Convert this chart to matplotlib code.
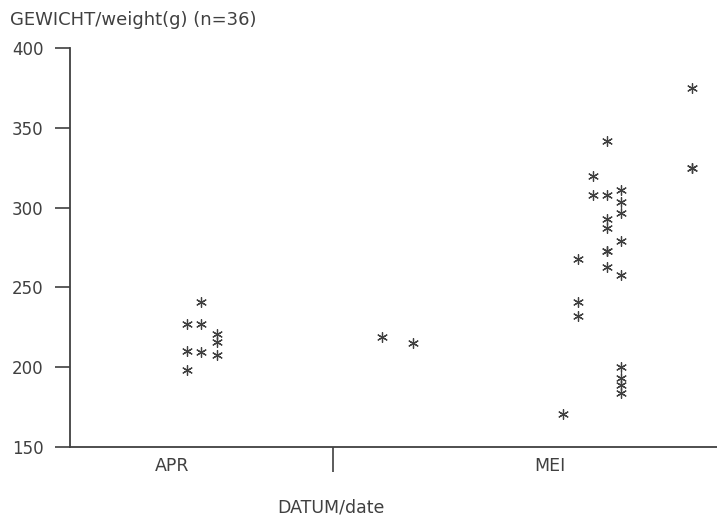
import matplotlib
matplotlib.use("Agg")
import matplotlib.pyplot as plt
import numpy as np

# x = day counted from the start of the axis (month boundary at day 30)
apr_x = [13.3, 15.0, 15.0, 16.8, 16.8, 13.3, 15.0, 16.8, 13.3]
apr_y = [227, 241, 227, 221, 216, 210, 209.5, 207.5, 198]

mid_x = [35.6, 39.1]
mid_y = [219, 215]

mei_x = [56.2, 57.9, 57.9, 57.9, 59.7, 59.7,
         61.2, 61.2, 61.2, 61.2, 61.2, 61.2, 61.2,
         62.8, 62.8, 62.8, 62.8, 62.8, 62.8, 62.8, 62.8, 62.8,
         70.9, 70.9, 70.9]
mei_y = [171, 268, 241, 232, 320, 308,
         342, 308, 293, 287, 273, 273, 263,
         311, 303.5, 297, 279, 258, 200, 193, 189, 184,
         375, 325, 325]

x = np.array(apr_x + mid_x + mei_x)
y = np.array(apr_y + mid_y + mei_y)

month_labels = ["APR", "MEI"]
month_pos = [11.6, 54.7]
yticks = [150, 200, 250, 300, 350, 400]

ink = "#404040"

fig = plt.figure(figsize=(7.17, 5.18), dpi=100)
ax = fig.add_axes([0.0976, 0.137, 0.9024, 0.770])

ax.scatter(x, y, marker=(6, 2, 0), s=50, color=ink, linewidths=0.9)

ax.set_xlim(0, 73.8)
ax.set_ylim(150, 400)

for s in ["top", "right"]:
    ax.spines[s].set_visible(False)
ax.spines["left"].set_color(ink)
ax.spines["bottom"].set_color(ink)
ax.spines["left"].set_linewidth(1.3)
ax.spines["bottom"].set_linewidth(1.3)

ax.set_yticks(yticks)
ax.set_yticklabels([str(t) for t in yticks], fontsize=12, color=ink)
ax.tick_params(axis="y", length=11, width=1.2, color=ink, pad=8)

# only one tick on the x axis, at the month boundary
ax.set_xticks([30])
ax.set_xticklabels([""])
ax.tick_params(axis="x", length=18, width=1.2, color=ink)

for lab, pos in zip(month_labels, month_pos):
    ax.text(pos, 144, lab, ha="center", va="top", fontsize=12.5, color=ink)

fig.text(10 / 717, 1 - 20 / 518, "GEWICHT/weight(g) (n=36)", fontsize=13,
         color=ink, ha="left", va="center")
fig.text(331 / 717, 1 - 508 / 518, "DATUM/date", fontsize=12.5,
         color=ink, ha="center", va="center")

fig.savefig("out.png", dpi=100)
